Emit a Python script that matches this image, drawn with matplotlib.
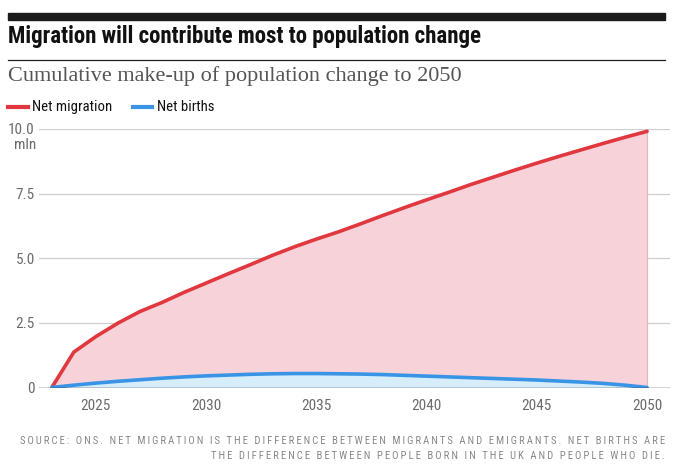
import matplotlib
matplotlib.use('Agg')
import matplotlib.pyplot as plt
import numpy as np

years = list(range(2023, 2051))
net_migration = [0.0, 1.37, 1.97, 2.49, 2.94, 3.29, 3.68, 4.04, 4.40, 4.75,
                 5.11, 5.44, 5.74, 6.02, 6.33, 6.65, 6.96, 7.26, 7.55, 7.85,
                 8.13, 8.41, 8.68, 8.94, 9.19, 9.44, 9.68, 9.91]
net_births = [0.0, 0.09, 0.17, 0.24, 0.30, 0.36, 0.41, 0.45, 0.48, 0.51,
              0.53, 0.54, 0.54, 0.53, 0.52, 0.50, 0.47, 0.44, 0.41, 0.38,
              0.35, 0.32, 0.29, 0.25, 0.21, 0.16, 0.09, 0.0]
x_ticks = [2025, 2030, 2035, 2040, 2045, 2050]
y_ticks = [0, 2.5, 5.0, 7.5, 10.0]
y_labels = ['0', '2.5', '5.0', '7.5', '10.0']

RED = '#e0383e'
PINK = '#f7d2d9'
BLUE = '#3a94e6'
LIGHTBLUE = '#d6edfc'
GREY = '#6b6b6b'
narrow = ['Roboto Condensed', 'Roboto', 'DejaVu Sans']
serif = ['Liberation Serif', 'DejaVu Serif']

W, H = 681, 474
fig = plt.figure(figsize=(W / 100, H / 100), dpi=100)

# top bar, title, rule, subtitle
fig.patches.append(plt.Rectangle((8 / W, 1 - 20 / H), 657 / W, 7 / H,
                                 transform=fig.transFigure, color='#1a1a1a'))
fig.text(8 / W, 1 - 36 / H, 'Migration will contribute most to population change',
         family=narrow, weight='bold', fontsize=16.5, color='#111', va='center')
fig.lines.append(plt.Line2D([8 / W, 665 / W], [1 - 60 / H, 1 - 60 / H],
                            transform=fig.transFigure, color='#222', lw=0.9))
fig.text(8 / W, 1 - 76 / H, 'Cumulative make-up of population change to 2050',
         family=serif, fontsize=16, color='#555', va='center')

# legend
ly = 1 - 107 / H
fig.lines.append(plt.Line2D([8 / W, 28 / W], [ly, ly], transform=fig.transFigure,
                            color=RED, lw=3))
fig.text(32 / W, ly, 'Net migration', family=narrow, fontsize=10.6, color='#111', va='center')
fig.lines.append(plt.Line2D([133 / W, 152 / W], [ly, ly], transform=fig.transFigure,
                            color=BLUE, lw=3))
fig.text(157 / W, ly, 'Net births', family=narrow, fontsize=10.6, color='#111', va='center')

# chart
ax = fig.add_axes([39 / W, 1 - 387.5 / H, 631 / W, (387.5 - 129) / H])
ax.fill_between(years, 0, net_migration, color=PINK, lw=0)
ax.fill_between(years, 0, net_births, color=LIGHTBLUE, lw=0)
ax.plot([years[-1], years[-1]], [0, net_migration[-1]], color='#e3b5bd', lw=0.8)
ax.plot(years, net_migration, color=RED, lw=2.6, solid_capstyle='round')
ax.plot(years, net_births, color=BLUE, lw=2.6, solid_capstyle='round')

ax.set_xlim(2022.42, 2051.04)
ax.set_ylim(0, 10)
ax.set_yticks(y_ticks)
ax.set_yticklabels(y_labels)
ax.set_xticks(x_ticks)
for v in y_ticks[1:]:
    ax.axhline(v, color='#cfcfcf', lw=0.9, zorder=0)
ax.axhline(0, color='#222', lw=1.0, zorder=5)
for s in ax.spines.values():
    s.set_visible(False)
ax.tick_params(axis='both', length=0, colors=GREY, labelsize=11)
ax.tick_params(axis='y', pad=3)
ax.tick_params(axis='x', pad=8)
for lab in ax.get_xticklabels() + ax.get_yticklabels():
    lab.set_family(narrow)
ax.text(-3 / 631, 9.38, 'mln', transform=ax.get_yaxis_transform(), ha='right', va='center',
        family=narrow, fontsize=11, color=GREY)

# source note
src1 = 'SOURCE: ONS. NET MIGRATION IS THE DIFFERENCE BETWEEN MIGRANTS AND EMIGRANTS. NET BIRTHS ARE'
src2 = 'THE DIFFERENCE BETWEEN PEOPLE BORN IN THE UK AND PEOPLE WHO DIE.'
sp = lambda s: '\u2009'.join(s)
fig.text(665 / W, 1 - 441 / H, sp(src1), family=narrow, fontsize=7.7, color='#888',
         ha='right', va='center')
fig.text(665 / W, 1 - 456 / H, sp(src2), family=narrow, fontsize=7.7, color='#888',
         ha='right', va='center')

fig.savefig('out.png', dpi=100)
